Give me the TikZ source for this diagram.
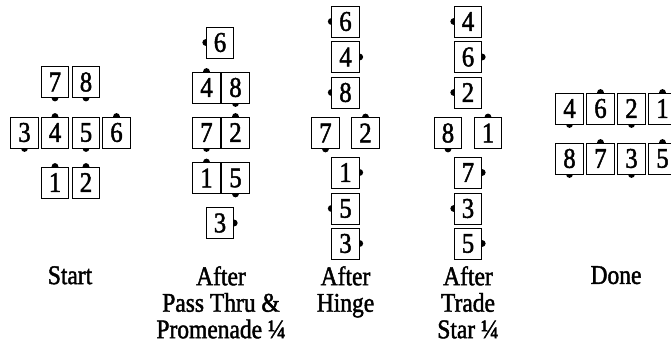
\documentclass[tikz,border=0pt]{standalone}
\usepackage{fontspec}
\setmainfont{Liberation Serif}
\newfontfamily\narrowserif[FakeStretch=0.87,FakeBold=1.6]{Liberation Serif}
\usetikzlibrary{backgrounds}
\newcommand{\digitfont}{\narrowserif\fontsize{28.5}{28.5}\selectfont}
\newcommand{\capfont}{\narrowserif\fontsize{27}{26.5}\selectfont}

\begin{document}
\begin{tikzpicture}[x=1pt, y=-1pt,
  dancer/.style={draw, line width=1pt, fill=white, inner sep=0pt,
    minimum width=27.5pt, minimum height=31pt, font=\digitfont},
  caption/.style={align=center, inner sep=0pt, anchor=north, font=\capfont}]
  \useasboundingbox (0,0) rectangle (671,343);
  % start
  \node[dancer] (s7) at (55,82) {7};
  \node[dancer] (s8) at (86,82) {8};
  \node[dancer] (s3) at (24.5,132.5) {3};
  \node[dancer] (s4) at (55,132.5) {4};
  \node[dancer] (s5) at (86,132.5) {5};
  \node[dancer] (s6) at (116.5,132.5) {6};
  \node[dancer] (s1) at (55,182.5) {1};
  \node[dancer] (s2) at (86,182.5) {2};
  % after pass thru & promenade
  \node[dancer] (p6) at (220,42.5) {6};
  \node[dancer] (p4) at (206.5,87.5) {4};
  \node[dancer] (p8) at (235.5,87.5) {8};
  \node[dancer] (p7) at (206.5,132.5) {7};
  \node[dancer] (p2) at (235.5,132.5) {2};
  \node[dancer] (p1) at (206.5,178) {1};
  \node[dancer] (p5) at (235.5,178) {5};
  \node[dancer] (p3) at (220,223) {3};
  % after hinge
  \node[dancer] (h6) at (345.5,21.5) {6};
  \node[dancer] (h4) at (345.5,57) {4};
  \node[dancer] (h8) at (345.5,92.5) {8};
  \node[dancer] (h7) at (325.5,133) {7};
  \node[dancer] (h2) at (365.5,133) {2};
  \node[dancer] (h1) at (345.5,172.5) {1};
  \node[dancer] (h5) at (345.5,208.5) {5};
  \node[dancer] (h3) at (345.5,243.5) {3};
  % after trade star
  \node[dancer] (t4) at (468,21.5) {4};
  \node[dancer] (t6) at (468,57) {6};
  \node[dancer] (t2) at (468,92.5) {2};
  \node[dancer] (t8) at (448,133) {8};
  \node[dancer] (t1) at (488,133) {1};
  \node[dancer] (t7) at (468,172.5) {7};
  \node[dancer] (t3) at (468,208.5) {3};
  \node[dancer] (t5) at (468,243.5) {5};
  % done
  \node[dancer] (d4) at (569.5,108.5) {4};
  \node[dancer] (d6) at (600.5,108.5) {6};
  \node[dancer] (d2) at (631.5,108.5) {2};
  \node[dancer] (d1) at (662.5,108.5) {1};
  \node[dancer] (d8) at (569.5,158.5) {8};
  \node[dancer] (d7) at (600.5,158.5) {7};
  \node[dancer] (d3) at (631.5,158.5) {3};
  \node[dancer] (d5) at (662.5,158.5) {5};
  % facing dots, half hidden behind the boxes
  \begin{scope}[on background layer]
    \fill (s7.south) circle (3.4) (s8.south) circle (3.4) (s3.south) circle (3.4)
      (s4.north) circle (3.4) (s5.south) circle (3.4) (s6.north) circle (3.4)
      (s1.north) circle (3.4) (s2.north) circle (3.4);
    \fill (p6.west) circle (3.4) (p4.north) circle (3.4) (p8.south) circle (3.4)
      (p7.south) circle (3.4) (p2.north) circle (3.4) (p1.north) circle (3.4)
      (p5.south) circle (3.4) (p3.east) circle (3.4);
    \fill (h6.west) circle (3.4) (h4.east) circle (3.4) (h8.west) circle (3.4)
      (h7.south) circle (3.4) (h2.north) circle (3.4) (h1.east) circle (3.4)
      (h5.west) circle (3.4) (h3.east) circle (3.4);
    \fill (t4.west) circle (3.4) (t6.east) circle (3.4) (t2.west) circle (3.4)
      (t8.south) circle (3.4) (t1.north) circle (3.4) (t7.east) circle (3.4)
      (t3.west) circle (3.4) (t5.east) circle (3.4);
    \fill (d4.south) circle (3.4) (d6.north) circle (3.4) (d2.south) circle (3.4)
      (d1.north) circle (3.4) (d8.south) circle (3.4) (d7.north) circle (3.4)
      (d3.south) circle (3.4) (d5.north) circle (3.4);
  \end{scope}
  % captions
  \node[caption] (startcap) at (70,266) {Start};
  \node[caption] (passcap) at (221,266) {After\\Pass Thru \&\\Promenade ¼};
  \node[caption] (hingecap) at (345.5,266) {After\\Hinge};
  \node[caption] (tradecap) at (468,266) {After\\Trade\\Star ¼};
  \node[caption] (donecap) at (616,266) {Done};
\end{tikzpicture}
\end{document}
